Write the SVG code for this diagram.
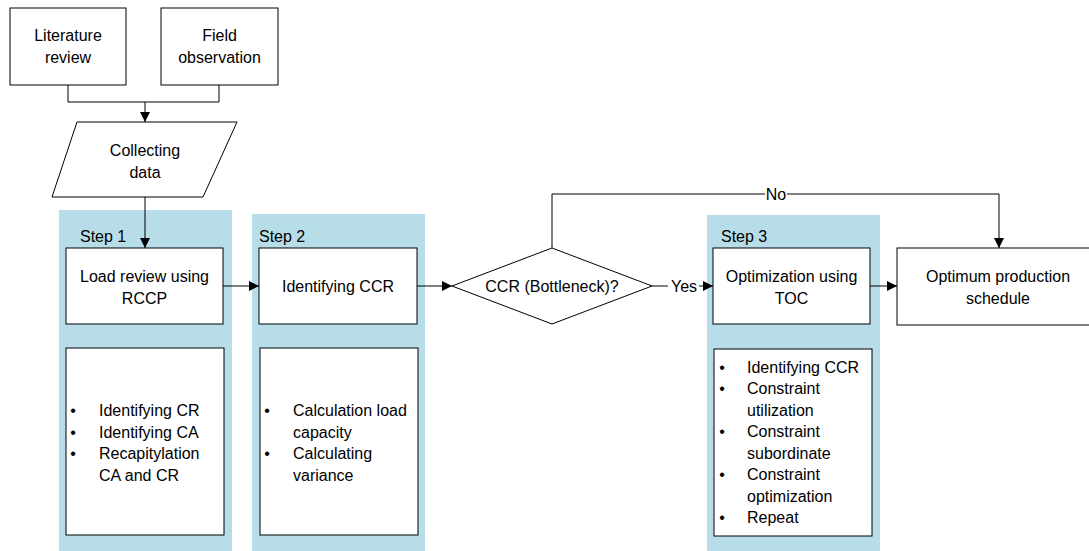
<svg xmlns="http://www.w3.org/2000/svg" width="1089" height="551" viewBox="0 0 1089 551">
<style>
text{font-family:"Liberation Sans",Arial,sans-serif;font-size:16px;fill:#000}
.c{text-anchor:middle}
.box{fill:#fff;stroke:#000;stroke-width:1}
.panel{fill:#B7DDE8;stroke:none}
.ln{fill:none;stroke:#000;stroke-width:1}
</style>
<defs>
<marker id="ah" viewBox="0 0 10 10" refX="10" refY="5" markerWidth="10" markerHeight="10" markerUnits="userSpaceOnUse" orient="auto">
<path d="M0,0 L10,5 L0,10 z" fill="#000"/>
</marker>
</defs>
<rect width="1089" height="551" fill="#fff"/>
<g id="panels">
<rect id="step1-panel" class="panel" x="59" y="210" width="173" height="341"/>
<rect id="step2-panel" class="panel" x="252" y="214" width="173" height="337"/>
<rect id="step3-panel" class="panel" x="707" y="215" width="173" height="336"/>
<text x="80" y="242">Step 1</text>
<text x="259" y="242">Step 2</text>
<text x="721" y="242">Step 3</text>
</g>
<g id="connectors">
<path class="ln" d="M68,85 V102 H219 V85"/>
<path class="ln" d="M145,102 V122" marker-end="url(#ah)"/>
<path class="ln" d="M145,197 V248" marker-end="url(#ah)"/>
<path class="ln" d="M223,286 H259" marker-end="url(#ah)"/>
<path class="ln" d="M417,286 H452" marker-end="url(#ah)"/>
<path class="ln" d="M652,286 H713" marker-end="url(#ah)"/>
<path class="ln" d="M552,248 V194 H999 V248" marker-end="url(#ah)"/>
<path class="ln" d="M870,286 H897" marker-end="url(#ah)"/>
<rect x="668" y="278" width="31" height="17" fill="#fff"/>
<text class="c" x="684" y="292">Yes</text>
<rect x="765" y="186" width="22" height="17" fill="#fff"/>
<text class="c" x="776" y="200">No</text>
</g>
<g id="literature">
<rect class="box" x="10" y="8" width="116" height="77"/>
<text class="c" x="68" y="41">Literature</text>
<text class="c" x="68" y="63">review</text>
</g>
<g id="field">
<rect class="box" x="161" y="8" width="117" height="77"/>
<text class="c" x="219.5" y="41">Field</text>
<text class="c" x="219.5" y="63">observation</text>
</g>
<g id="collecting">
<polygon class="box" points="77,122 237,122 203,197 52,197"/>
<text class="c" x="145" y="155.5">Collecting</text>
<text class="c" x="145" y="177.5">data</text>
</g>
<g id="load-review">
<rect class="box" x="66" y="248" width="157" height="76"/>
<text class="c" x="144.5" y="281.5">Load review using</text>
<text class="c" x="144.5" y="303.5">RCCP</text>
</g>
<g id="identifying-ccr">
<rect class="box" x="259" y="248" width="158" height="76"/>
<text class="c" x="338" y="292">Identifying CCR</text>
</g>
<g id="decision">
<polygon class="box" points="452,286 552,248 652,286 552,324"/>
<text class="c" x="552" y="292">CCR (Bottleneck)?</text>
</g>
<g id="optimization">
<rect class="box" x="713" y="248" width="157" height="76"/>
<text class="c" x="791.5" y="281.5">Optimization using</text>
<text class="c" x="791.5" y="303.5">TOC</text>
</g>
<g id="optimum">
<rect class="box" x="897" y="248" width="202" height="77"/>
<text class="c" x="998" y="281.5">Optimum production</text>
<text class="c" x="998" y="303.5">schedule</text>
</g>
<g id="step1-list">
<rect class="box" x="66" y="348" width="158" height="187"/>
<text class="c" x="73" y="416">•</text><text x="99" y="416">Identifying CR</text>
<text class="c" x="73" y="437.5">•</text><text x="99" y="437.5">Identifying CA</text>
<text class="c" x="73" y="459">•</text><text x="99" y="459">Recapitylation</text>
<text x="99" y="480.5">CA and CR</text>
</g>
<g id="step2-list">
<rect class="box" x="260" y="348" width="158" height="187"/>
<text class="c" x="267" y="416">•</text><text x="293" y="416">Calculation load</text>
<text x="293" y="437.5">capacity</text>
<text class="c" x="267" y="459">•</text><text x="293" y="459">Calculating</text>
<text x="293" y="480.5">variance</text>
</g>
<g id="step3-list">
<rect class="box" x="714" y="349" width="158" height="187"/>
<text class="c" x="722" y="372.5">•</text><text x="747" y="372.5">Identifying CCR</text>
<text class="c" x="722" y="394">•</text><text x="747" y="394">Constraint</text>
<text x="747" y="415.5">utilization</text>
<text class="c" x="722" y="437">•</text><text x="747" y="437">Constraint</text>
<text x="747" y="458.5">subordinate</text>
<text class="c" x="722" y="480">•</text><text x="747" y="480">Constraint</text>
<text x="747" y="501.5">optimization</text>
<text class="c" x="722" y="523">•</text><text x="747" y="523">Repeat</text>
</g>
</svg>
